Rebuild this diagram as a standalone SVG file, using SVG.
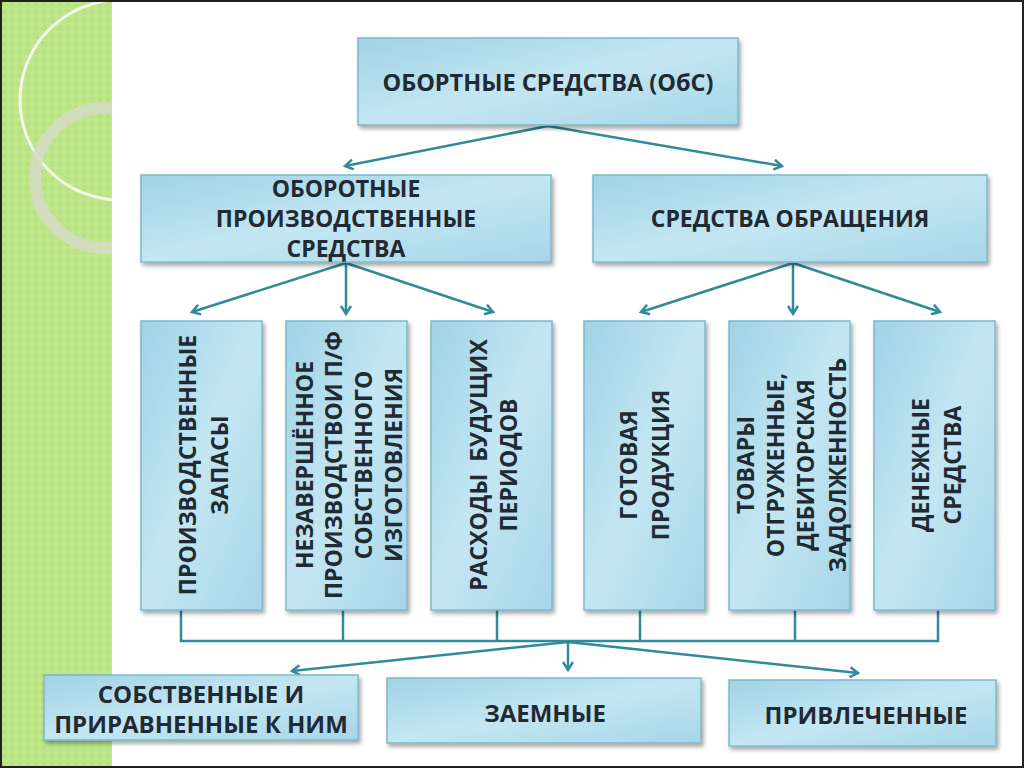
<svg xmlns="http://www.w3.org/2000/svg" width="1024" height="768" viewBox="0 0 1024 768">
<defs>
<linearGradient id="bg" x1="0" y1="0" x2="1" y2="1"><stop offset="0" stop-color="#9fd3e6"/><stop offset="0.5" stop-color="#c4e6f2"/><stop offset="1" stop-color="#a6d6e8"/></linearGradient>
<filter id="sh" x="-5%" y="-5%" width="115%" height="120%"><feDropShadow dx="2" dy="3" stdDeviation="2" flood-color="#000" flood-opacity="0.35"/></filter>
<pattern id="dots" width="8" height="8" patternUnits="userSpaceOnUse"><rect width="8" height="8" fill="#bfe88a"/><circle cx="4" cy="4" r="2" fill="none" stroke="#aed97a" stroke-width="1"/></pattern>
<clipPath id="strip"><rect x="0" y="0" width="112" height="768"/></clipPath>
<marker id="ah" markerWidth="12" markerHeight="12" refX="9" refY="6" orient="auto" markerUnits="userSpaceOnUse"><path d="M1,1 L9,6 L1,11" fill="none" stroke="#2f8a9c" stroke-width="2.5"/></marker>
<style>
.box{fill:url(#bg);stroke:#7fb8cc;stroke-width:1.5;filter:url(#sh)}
.t{font-family:"Open Sans","DejaVu Sans",sans-serif;font-weight:700;font-size:23px;fill:#1f2a33;text-anchor:middle;dominant-baseline:central}
.c{fill:none;stroke:#2f8a9c;stroke-width:2.5}
</style>
</defs>
<rect width="1024" height="768" fill="#fff"/>
<rect x="0" y="0" width="112" height="768" fill="url(#dots)"/>
<g clip-path="url(#strip)">
<circle cx="120" cy="100" r="100" fill="none" stroke="#f4f8ea" stroke-width="3"/>
<circle cx="105" cy="178" r="70" fill="none" stroke="#d3dac6" stroke-width="12" opacity="0.85"/>
</g>
<rect x="1" y="1" width="1022" height="766" fill="none" stroke="#222" stroke-width="2"/>
<g id="connectors">
<line class="c" x1="548" y1="126" x2="345" y2="166" marker-end="url(#ah)"/>
<line class="c" x1="548" y1="126" x2="782" y2="166" marker-end="url(#ah)"/>
<line class="c" x1="346" y1="263" x2="192" y2="312" marker-end="url(#ah)"/>
<line class="c" x1="346" y1="263" x2="346" y2="314" marker-end="url(#ah)"/>
<line class="c" x1="346" y1="263" x2="493" y2="312" marker-end="url(#ah)"/>
<line class="c" x1="793" y1="263" x2="641" y2="312" marker-end="url(#ah)"/>
<line class="c" x1="793" y1="263" x2="793" y2="314" marker-end="url(#ah)"/>
<line class="c" x1="793" y1="263" x2="940" y2="312" marker-end="url(#ah)"/>
<path class="c" d="M181,610 V641 H938 V610 M343,610 V641 M497,610 V641 M640,610 V641 M795,610 V641"/>
<line class="c" x1="568" y1="642" x2="292" y2="671" marker-end="url(#ah)"/>
<line class="c" x1="568" y1="642" x2="568" y2="670" marker-end="url(#ah)"/>
<line class="c" x1="568" y1="642" x2="858" y2="673" marker-end="url(#ah)"/>
</g>
<g id="root"><rect class="box" x="358" y="38" width="380" height="87"/><text class="t" x="548" y="82" style="font-size:23.5px">ОБОРТНЫЕ СРЕДСТВА (ОбС)</text></g>
<g id="prod"><rect class="box" x="141" y="175" width="410" height="87"/><text class="t" x="346" y="188">ОБОРОТНЫЕ</text><text class="t" x="346" y="218">ПРОИЗВОДСТВЕННЫЕ</text><text class="t" x="346" y="248">СРЕДСТВА</text></g>
<g id="obr"><rect class="box" x="593" y="175" width="394" height="87"/><text class="t" x="790" y="218">СРЕДСТВА ОБРАЩЕНИЯ</text></g>
<g id="v1"><rect class="box" x="141" y="321" width="121" height="289"/><g transform="translate(201,465) rotate(-90)"><text class="t" x="0" y="-14">ПРОИЗВОДСТВЕННЫЕ</text><text class="t" x="0" y="18">ЗАПАСЫ</text></g></g>
<g id="v2"><rect class="box" x="286" y="321" width="121" height="289"/><g transform="translate(346,465) rotate(-90)"><text class="t" x="0" y="-42">НЕЗАВЕРШЁННОЕ</text><text class="t" x="0" y="-13">ПРОИЗВОДСТВОИ П/Ф</text><text class="t" x="0" y="17">СОБСТВЕННОГО</text><text class="t" x="0" y="47">ИЗГОТОВЛЕНИЯ</text></g></g>
<g id="v3"><rect class="box" x="431" y="321" width="121" height="289"/><g transform="translate(491,465) rotate(-90)"><text class="t" x="0" y="-13" xml:space="preserve">РАСХОДЫ  БУДУЩИХ</text><text class="t" x="0" y="17">ПЕРИОДОВ</text></g></g>
<g id="v4"><rect class="box" x="584" y="321" width="121" height="289"/><g transform="translate(644,465) rotate(-90)"><text class="t" x="0" y="-16">ГОТОВАЯ</text><text class="t" x="0" y="16">ПРОДУКЦИЯ</text></g></g>
<g id="v5"><rect class="box" x="729" y="321" width="121" height="289"/><g transform="translate(789,465) rotate(-90)"><text class="t" x="0" y="-44">ТОВАРЫ</text><text class="t" x="0" y="-14">ОТГРУЖЕННЫЕ,</text><text class="t" x="0" y="16">ДЕБИТОРСКАЯ</text><text class="t" x="0" y="48">ЗАДОЛЖЕННОСТЬ</text></g></g>
<g id="v6"><rect class="box" x="874" y="321" width="121" height="289"/><g transform="translate(934,465) rotate(-90)"><text class="t" x="0" y="-14">ДЕНЕЖНЫЕ</text><text class="t" x="0" y="18">СРЕДСТВА</text></g></g>
<g id="own"><rect class="box" x="44" y="675" width="314" height="65"/><text class="t" x="201" y="693" style="font-size:24px">СОБСТВЕННЫЕ И</text><text class="t" x="201" y="723" style="font-size:24px">ПРИРАВНЕННЫЕ К НИМ</text></g>
<g id="loan"><rect class="box" x="387" y="678" width="314" height="65"/><text class="t" x="545" y="712" style="font-size:24px">ЗАЕМНЫЕ</text></g>
<g id="attr"><rect class="box" x="729" y="680" width="267" height="66"/><text class="t" x="866" y="714" style="font-size:24px">ПРИВЛЕЧЕННЫЕ</text></g>
</svg>
